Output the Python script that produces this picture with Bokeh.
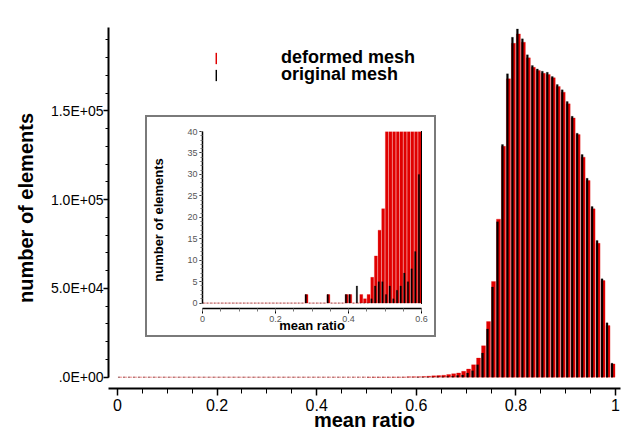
import numpy as np
from bokeh.plotting import figure
from bokeh.models import ColumnDataSource, FixedTicker, Legend, LegendItem
from bokeh.embed import file_html
from bokeh.resources import INLINE

# ---------------- data ----------------
bin_width = 0.01
bin_start = np.round(np.arange(0.0, 1.0, bin_width), 2)

# counts per bin, deformed mesh (red)
deformed = [
    0, 0, 0, 0, 0, 0, 0, 0, 0, 0,          # 0.00-0.09
    0, 0, 0, 0, 0, 0, 0, 0, 0, 0,          # 0.10-0.19
    0, 0, 0, 0, 0, 0, 0, 0, 2, 0,          # 0.20-0.29
    0, 0, 0, 0, 2, 0, 0, 0, 0, 2,          # 0.30-0.39
    2, 0, 0, 2, 1, 2, 6, 11, 17, 22,       # 0.40-0.49
    48, 55, 62, 70, 85, 100, 120, 150, 190, 230,          # 0.50-0.59
    300, 400, 560, 750, 900, 1100, 1500, 2000, 2400, 3300,  # 0.60-0.69
    4600, 7000, 10800, 17700, 31300, 53900, 89000, 130000, 168000, 188000,  # 0.70-0.79
    193300, 188600, 179800, 174500, 172700, 171100, 170400, 168600, 163700, 160500,  # 0.80-0.89
    153900, 146000, 136600, 123900, 110700, 94800, 75400, 54400, 29100, 7500,  # 0.90-0.99
]

# counts per bin, original mesh (black)
original = [
    0, 0, 0, 0, 0, 0, 0, 0, 0, 0,
    0, 0, 0, 0, 0, 0, 0, 0, 0, 0,
    0, 0, 0, 0, 0, 0, 0, 0, 2, 0,
    0, 0, 0, 0, 2, 0, 0, 0, 0, 2,
    2, 0, 4, 0, 0, 0, 1, 4, 5, 5,
    2, 4, 1, 3, 4, 7, 5, 8, 12, 30,
    45, 70, 110, 160, 230, 300, 400, 550, 900, 1200,
    2300, 3700, 7000, 13600, 27200, 50800, 87500, 131000, 170800, 191400,
    196100, 190500, 181500, 175500, 173600, 172300, 171700, 169300, 164800, 161800,
    155200, 146900, 137400, 125400, 112000, 96100, 77000, 55400, 30600, 7900,
]

x_ticks = [0, 0.2, 0.4, 0.6, 0.8, 1.0]
x_tick_labels = ["0", "0.2", "0.4", "0.6", "0.8", "1"]
y_ticks = [0, 50000, 100000, 150000]
y_tick_labels = [".0E+00", "5.0E+04", "1.0E+05", "1.5E+05"]

inset_x_ticks = [0, 0.2, 0.4, 0.6]
inset_x_tick_labels = ["0", "0.2", "0.4", "0.6"]
inset_y_ticks = [0, 5, 10, 15, 20, 25, 30, 35, 40]

series_names = ["deformed mesh", "original mesh"]
red = "#e00000"
black = "#000000"

src = ColumnDataSource(dict(
    red_x=bin_start + 0.5 * bin_width,
    black_x=bin_start + 0.3 * bin_width,
    deformed=deformed,
    original=original,
))

FONT = "Liberation Sans"

# ---------------- main plot ----------------
p = figure(width=628, height=435, x_range=(-0.018, 1.01), y_range=(-6360, 196900),
           output_backend="svg", toolbar_location=None,
           min_border_left=108, min_border_right=8, min_border_top=27, min_border_bottom=47)
p.outline_line_color = None
p.xgrid.visible = False
p.ygrid.visible = False

r_red = p.vbar(x="red_x", width=0.8 * bin_width, top="deformed", bottom=0, source=src,
               fill_color=red, line_color=red, line_width=0.6, line_alpha=0.45)
r_black = p.vbar(x="black_x", width=0.4 * bin_width, top="original", bottom=0, source=src,
                 fill_color=black, line_color=black, line_width=0.6, line_alpha=0.35)

p.yaxis.ticker = FixedTicker(ticks=y_ticks, minor_ticks=list(range(0, 200000, 10000)))
p.yaxis.major_label_overrides = dict(zip(y_ticks, y_tick_labels))
p.yaxis.bounds = (0, 196900)
p.yaxis.axis_line_width = 2
p.yaxis.major_tick_line_width = 1.5
p.yaxis.major_tick_out = 5
p.yaxis.major_tick_in = 0
p.yaxis.minor_tick_out = 3
p.yaxis.minor_tick_in = 0
p.yaxis.major_label_standoff = 0
p.yaxis.major_label_text_font = FONT
p.yaxis.major_label_text_font_size = "14px"
p.yaxis.major_label_text_color = "black"
p.yaxis.axis_label = "number of elements"
p.yaxis.axis_label_text_font = FONT
p.yaxis.axis_label_text_font_style = "bold"
p.yaxis.axis_label_text_font_size = "20px"
p.yaxis.axis_label_text_color = "black"
p.yaxis.axis_label_standoff = 11

p.xaxis.ticker = FixedTicker(ticks=x_ticks, minor_ticks=[round(0.05 * i, 2) for i in range(21)])
p.xaxis.major_label_overrides = dict(zip(x_ticks, x_tick_labels))
p.xaxis.axis_line_width = 2
p.xaxis.major_tick_line_width = 1.5
p.xaxis.major_tick_out = 7
p.xaxis.major_tick_in = 0
p.xaxis.minor_tick_out = 5
p.xaxis.minor_tick_in = 0
p.xaxis.major_label_standoff = 3
p.xaxis.major_label_text_font = FONT
p.xaxis.major_label_text_font_size = "16px"
p.xaxis.major_label_text_color = "black"
p.xaxis.axis_label = "mean ratio"
p.xaxis.axis_label_text_font = FONT
p.xaxis.axis_label_text_font_style = "bold"
p.xaxis.axis_label_text_font_size = "20px"
p.xaxis.axis_label_text_color = "black"
p.xaxis.axis_label_standoff = -5

legend_common = dict(glyph_width=2, glyph_height=14, label_standoff=64, spacing=0,
                     padding=0, margin=0, border_line_color=None, background_fill_alpha=0,
                     label_text_font=FONT, label_text_font_style="bold",
                     label_text_font_size="18px", label_text_color="black")
legend_red = Legend(items=[LegendItem(label=series_names[0], renderers=[r_red])],
                    location=(107, 320), **legend_common)
legend_black = Legend(items=[LegendItem(label=series_names[1], renderers=[r_black])],
                      location=(107, 303), **legend_common)
p.add_layout(legend_red)
p.add_layout(legend_black)

# ---------------- inset ----------------
inset = figure(width=291, height=222, x_range=(0, 0.6), y_range=(-1.26, 40),
               output_backend="svg", toolbar_location=None,
               min_border_left=57, min_border_right=15, min_border_top=16, min_border_bottom=29)
inset.outline_line_color = None
inset.xgrid.visible = False
inset.ygrid.visible = False
inset.border_fill_alpha = 0
inset.background_fill_alpha = 0

inset.vbar(x="red_x", width=0.8 * bin_width, top="deformed", bottom=0, source=src,
           fill_color=red, line_color=red, line_width=0.6, line_alpha=0.45)
inset.vbar(x="black_x", width=0.4 * bin_width, top="original", bottom=0, source=src,
           fill_color=black, line_color=black, line_width=0.6, line_alpha=0.35)

inset.yaxis.ticker = FixedTicker(ticks=inset_y_ticks, minor_ticks=list(range(0, 41)))
inset.yaxis.bounds = (0, 40)
inset.yaxis.axis_line_width = 1.5
inset.yaxis.major_tick_out = 3
inset.yaxis.major_tick_in = 0
inset.yaxis.minor_tick_out = 2
inset.yaxis.minor_tick_in = 0
inset.yaxis.minor_tick_line_color = "#777777"
inset.yaxis.major_label_standoff = 2
inset.yaxis.major_label_text_font = FONT
inset.yaxis.major_label_text_font_size = "9px"
inset.yaxis.major_label_text_color = "#555555"
inset.yaxis.axis_label = "number of elements"
inset.yaxis.axis_label_text_font = FONT
inset.yaxis.axis_label_text_font_style = "bold"
inset.yaxis.axis_label_text_font_size = "13px"
inset.yaxis.axis_label_text_color = "black"
inset.yaxis.axis_label_standoff = 18

inset.xaxis.ticker = FixedTicker(ticks=inset_x_ticks, minor_ticks=[round(0.05 * i, 2) for i in range(13)])
inset.xaxis.major_label_overrides = dict(zip(inset_x_ticks, inset_x_tick_labels))
inset.xaxis.axis_line_width = 1.5
inset.xaxis.major_tick_out = 5
inset.xaxis.major_tick_in = 0
inset.xaxis.minor_tick_out = 3
inset.xaxis.minor_tick_in = 0
inset.xaxis.minor_tick_line_color = "#777777"
inset.xaxis.major_label_standoff = 2
inset.xaxis.major_label_text_font = FONT
inset.xaxis.major_label_text_font_size = "9px"
inset.xaxis.major_label_text_color = "#555555"
inset.xaxis.axis_label = "mean ratio"
inset.xaxis.axis_label_text_font = FONT
inset.xaxis.axis_label_text_font_style = "bold"
inset.xaxis.axis_label_text_font_size = "13px"
inset.xaxis.axis_label_text_color = "black"
inset.xaxis.axis_label_standoff = -7

inset.styles = {"position": "absolute", "left": "145px", "top": "115px", "z-index": "5",
                "background-color": "white", "box-shadow": "inset 0 0 0 2px #7a7a7a"}

open("out.html", "w").write(file_html([p, inset], INLINE))
